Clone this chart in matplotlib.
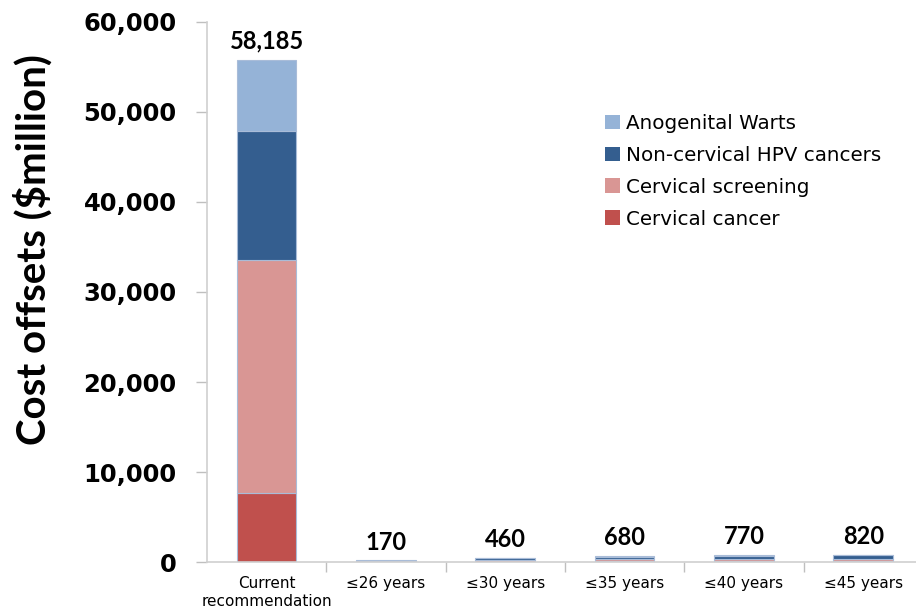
import numpy as np
import matplotlib.pyplot as plt
from matplotlib.patches import Patch

# ------------------------------------------------------------
# Dados
# ------------------------------------------------------------
categorias = ['Current\nrecommendation', '≤26 years', '≤30 years',
              '≤35 years', '≤40 years', '≤45 years']

cervical_cancer = [7700, 20, 40, 60, 70, 70]
cervical_screening = [25900, 40, 140, 220, 250, 270]
non_cervical_hpv = [14300, 60, 220, 330, 370, 400]
anogenital_warts = [7900, 50, 60, 70, 80, 80]

rotulos_total = ['58,185', '170', '460', '680', '770', '820']

series = [
    ('Cervical cancer', cervical_cancer, '#C0504D'),
    ('Cervical screening', cervical_screening, '#D99694'),
    ('Non-cervical HPV cancers', non_cervical_hpv, '#345E8F'),
    ('Anogenital Warts', anogenital_warts, '#95B3D7'),
]

# ------------------------------------------------------------
# Figura
# ------------------------------------------------------------
fig = plt.figure(figsize=(9.16, 6.11), dpi=100)
ax = fig.add_axes([207 / 916, 1 - 562 / 611, 709 / 916, 540 / 611])

x = np.arange(len(categorias))
base = np.zeros(len(categorias))
for nome, valores, cor in series:
    ax.bar(x, valores, width=0.5, bottom=base, color=cor,
           edgecolor='#A9BCD8', linewidth=0.8, label=nome)
    base += np.array(valores)

# rótulos dos totais
for xi, topo, txt in zip(x, base, rotulos_total):
    ax.annotate(txt, (xi, topo), xytext=(0, 5), textcoords='offset points',
                ha='center', va='bottom', fontsize=17, fontweight='bold',
                family='Lato')

ax.set_ylim(0, 60000)
ax.set_xlim(-0.5, 5.5 - 7 / 119.4)
ax.set_yticks(np.arange(0, 60001, 10000))
ax.set_yticklabels([f'{v:,}' for v in range(0, 60001, 10000)],
                   fontsize=17.5, fontweight='bold', family='DejaVu Sans')

ax.set_xticks(x)
ax.set_xticklabels(categorias, fontsize=11, family='DejaVu Sans',
                   linespacing=1.25)
ax.set_xticks(np.arange(0.5, 5.5, 1), minor=True)
ax.tick_params(axis='x', which='major', length=0, pad=10)
ax.tick_params(axis='x', which='minor', length=7, color='#BFBFBF', width=1)
ax.tick_params(axis='y', length=8, color='#BFBFBF', width=1, pad=14)

for lado in ['top', 'right']:
    ax.spines[lado].set_visible(False)
for lado in ['left', 'bottom']:
    ax.spines[lado].set_color('#D0D0D0')
    ax.spines[lado].set_linewidth(1.2)

fig.text(33 / 916, 1 - 250 / 611, 'Cost offsets ($million)', rotation=90,
         ha='center', va='center', fontsize=29, fontweight='bold',
         family='Lato')

# legenda (ordem invertida, Warts no topo)
handles = [Patch(facecolor=cor, edgecolor='none', label=nome)
           for nome, _, cor in series[::-1]]
leg = ax.legend(handles=handles, loc='upper left',
                bbox_to_anchor=((587 - 207) / 709, (562 - 96) / 540),
                frameon=False, handlelength=0.75, handleheight=0.75,
                handletextpad=0.3, labelspacing=0.65,
                prop={'family': 'DejaVu Sans', 'size': 14.3})

fig.savefig('out.png', dpi=100)
